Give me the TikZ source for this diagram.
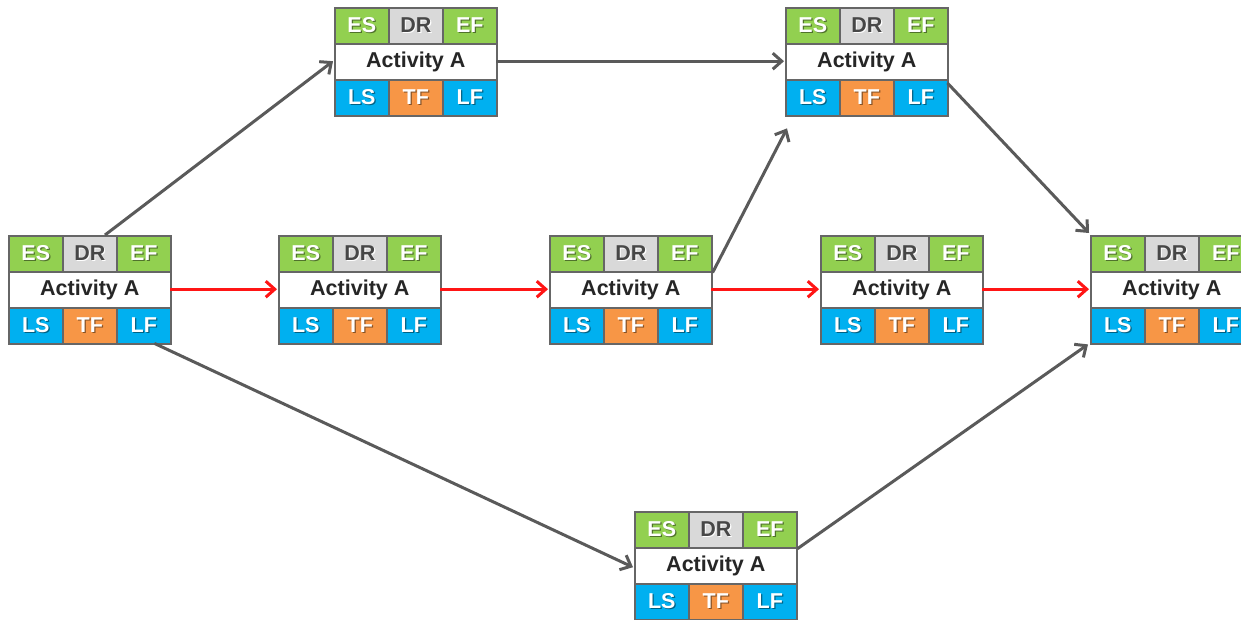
\documentclass[tikz,border=0pt]{standalone}
\usepackage{fontspec}
\setmainfont{Liberation Sans}
\usetikzlibrary{arrows.meta}
\definecolor{cgreen}{HTML}{92D050}
\definecolor{cgray}{HTML}{D9D9D9}
\definecolor{cblue}{HTML}{00B0F0}
\definecolor{corange}{HTML}{F79646}
\definecolor{cline}{HTML}{5A5A5A}
\definecolor{cborder}{HTML}{666666}
\definecolor{cred}{HTML}{FF1515}
\definecolor{ctext}{HTML}{262626}
\newcommand\shtxt[3]{\makebox[0pt][l]{\hspace{1.2pt}\raisebox{-1.2pt}{\textcolor{#1}{#3}}}\textcolor{#2}{#3}}
\tikzset{
 cell/.style={draw=cborder, line width=1.6pt, minimum width=54pt, minimum height=36pt, inner sep=0pt, anchor=north west, font=\bfseries\fontsize{21.5}{24}\selectfont},
 midcell/.style={cell, minimum width=162pt, fill=white, text=ctext},
 frame/.style={minimum width=162pt, minimum height=108pt, inner sep=0pt, anchor=north west},
 link/.style={draw=cline, line width=3pt, -{Straight Barb[length=9pt,width=16pt]}},
 crit/.style={link, draw=cred},
}
\newcommand\act[3]{%
 \node[frame] (#1) at (#2,#3) {};
 \node[cell,fill=cgreen] (#1es) at (#2,#3) {\shtxt{cgreen!55!black}{white}{ES}};
 \node[cell,fill=cgray] (#1dr) at (#2+54,#3) {\shtxt{white}{black!72}{DR}};
 \node[cell,fill=cgreen] (#1ef) at (#2+108,#3) {\shtxt{cgreen!55!black}{white}{EF}};
 \node[midcell] (#1name) at (#2,#3+36) {Activity A};
 \node[cell,fill=cblue] (#1ls) at (#2,#3+72) {\shtxt{cblue!55!black}{white}{LS}};
 \node[cell,fill=corange] (#1tf) at (#2+54,#3+72) {\shtxt{corange!55!black}{white}{TF}};
 \node[cell,fill=cblue] (#1lf) at (#2+108,#3+72) {\shtxt{cblue!55!black}{white}{LF}};
}
\begin{document}
\begin{tikzpicture}[x=1pt,y=-1pt]
\useasboundingbox (0,0) rectangle (1241,620);
\clip (0,0) rectangle (1241,620);
\act{a}{8}{235}
\act{b}{278}{235}
\act{c}{549}{235}
\act{d}{820}{235}
\act{e}{1090}{235}
\act{ta}{334}{7}
\act{tb}{785}{7}
\act{bot}{634}{511}
% critical path
\draw[crit] (a.east) -- ([xshift=-1pt]b.west);
\draw[crit] (b.east) -- ([xshift=-1pt]c.west);
\draw[crit] (c.east) -- ([xshift=-1pt]d.west);
\draw[crit] (d.east) -- ([xshift=-1pt]e.west);
% other links
\draw[link] ([xshift=97pt]a.north west) -- ([xshift=-1pt]ta.west);
\draw[link] ([xshift=-16pt]a.south east) -- ([shift={(-1pt,-2pt)}]bot.west);
\draw[link] (ta.east) -- ([xshift=-1pt]tb.west);
\draw[link] (cef.south east) -- ([shift={(2pt,-13pt)}]tb.south west);
\draw[link] ([yshift=-76pt]tb.north east) -- ([shift={(-1pt,2pt)}]e.north west);
\draw[link] (botef.south east) -- ([shift={(-2pt,-1pt)}]e.south west);
\end{tikzpicture}
\end{document}
